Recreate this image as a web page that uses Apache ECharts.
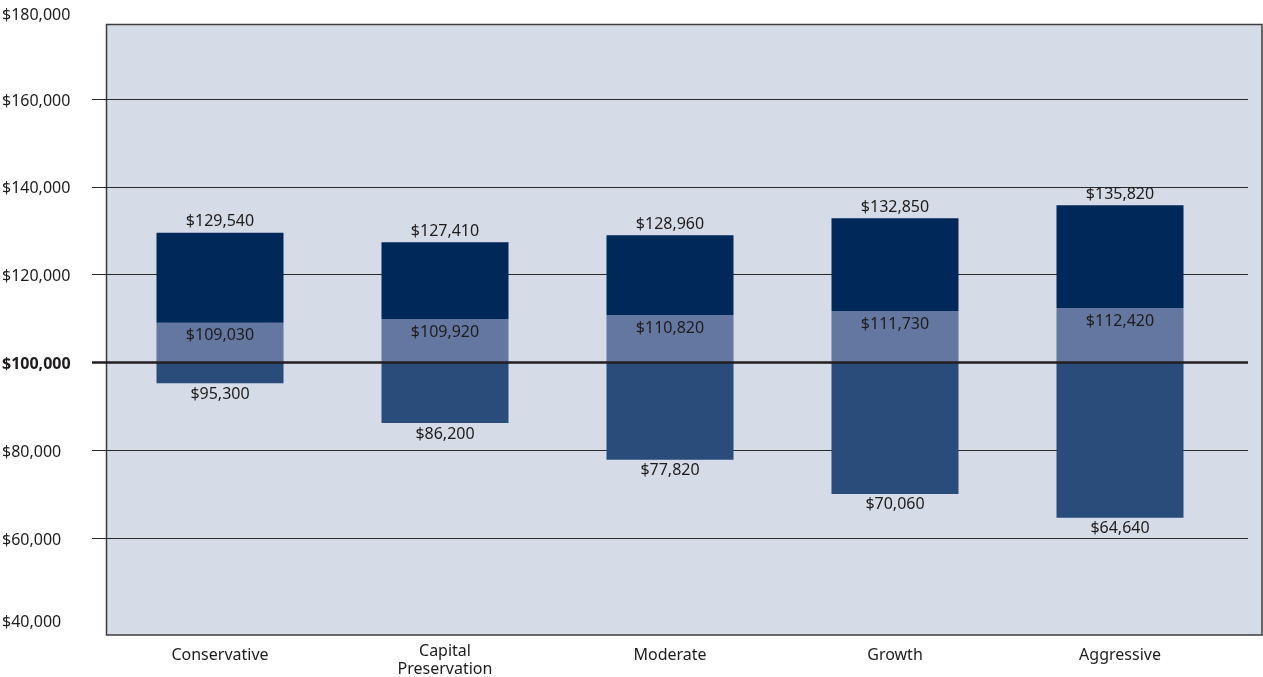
<!DOCTYPE html>
<html>
<head>
<meta charset="utf-8">
<script src="https://cdn.jsdelivr.net/npm/echarts@6/dist/echarts.min.js"></script>
<style>
html,body{margin:0;padding:0;background:#fff;}
#chart{width:1263px;height:677px;}
</style>
</head>
<body>
<div id="chart"></div>
<script>
// ---- data ----
var categories = ['Conservative', 'Capital\nPreservation', 'Moderate', 'Growth', 'Aggressive'];
var highValues = [129540, 127410, 128960, 132850, 135820];
var midValues  = [109030, 109920, 110820, 111730, 112420];
var lowValues  = [95300, 86200, 77820, 70060, 64640];
var baseline = 100000;
var yMin = 40000, yMax = 180000, yStep = 20000;

// ---- helpers ----
function money(v) {
  return '$' + String(Math.round(v)).replace(/\B(?=(\d{3})+(?!\d))/g, ',');
}
var FONT = '"Noto Sans", "DejaVu Sans", sans-serif';
var TXT = '#1e1b1c';

var baseData  = lowValues.map(function (v) { return v; });
var lowerData = lowValues.map(function (v) { return baseline - v; });
var lightData = midValues.map(function (v) { return v - baseline; });
var navyData  = highValues.map(function (v, i) { return v - midValues[i]; });

var chart = echarts.init(document.getElementById('chart'));
var option = {
  animation: false,
  backgroundColor: '#ffffff',
  grid: [
    // 0: data grid (category bands)
    { left: 107.5, right: 30.5, top: 11.3, bottom: 51.1, containLabel: false, outerBoundsMode: 'none' },
    // 1: gridlines grid (extends slightly beyond the box)
    { left: 92, right: 15, top: 11.3, bottom: 51.1, containLabel: false, outerBoundsMode: 'none' },
    // 2: framed plot box
    { left: 106.5, right: 1, top: 24.5, bottom: 42, show: true, outerBoundsMode: 'none',
      backgroundColor: '#d5dbe7', borderColor: '#3c3c3c', borderWidth: 1.5, containLabel: false }
  ],
  xAxis: [
    { type: 'category', gridIndex: 0, data: categories,
      axisLine: { show: false }, axisTick: { show: false }, splitLine: { show: false },
      axisLabel: {
        margin: 16, color: TXT, fontFamily: FONT, fontSize: 16, lineHeight: 18.5,
        verticalAlign: 'top', interval: 0,
        formatter: function (v) { return v.indexOf('\n') >= 0 ? v : '{s|' + v + '}'; },
        rich: { s: { fontFamily: FONT, fontSize: 16, color: TXT, padding: [8, 0, 0, 0] } }
      } },
    { type: 'value', gridIndex: 1, min: 0, max: 1, show: false },
    { type: 'value', gridIndex: 2, min: 0, max: 1, show: false }
  ],
  yAxis: [
    { type: 'value', gridIndex: 0, min: yMin, max: yMax, interval: yStep,
      axisLine: { show: false }, axisTick: { show: false }, splitLine: { show: false },
      axisLabel: {
        align: 'left', margin: 105.5, color: TXT, fontFamily: FONT, fontSize: 16,
        formatter: function (v) {
          if (v === baseline) return '{b|' + money(v) + '}';
          if (v === yMax) return '{t|' + money(v) + '}';
          if (v === yMin) return '{m|' + money(v) + '}';
          return '{n|' + money(v) + '}';
        },
        rich: {
          n: { fontFamily: FONT, fontSize: 16, color: TXT, padding: [4, 0, 0, 0] },
          b: { fontFamily: FONT, fontSize: 16, fontWeight: 'bold', color: TXT, padding: [4, 0, 0, 0] },
          t: { fontFamily: FONT, fontSize: 16, color: TXT, padding: [8, 0, 0, 0] },
          m: { fontFamily: FONT, fontSize: 16, color: TXT, padding: [0, 0, 6, 0] }
        }
      } },
    { type: 'value', gridIndex: 1, min: yMin, max: yMax, interval: yStep,
      axisLine: { show: false }, axisTick: { show: false }, axisLabel: { show: false },
      splitLine: { show: true, lineStyle: { width: 1.2,
        color: ['transparent', '#2a2a2a', '#2a2a2a', 'transparent', '#2a2a2a', '#2a2a2a', '#2a2a2a', 'transparent'] } } },
    { type: 'value', gridIndex: 2, min: 0, max: 1, show: false }
  ],
  series: [
    { name: 'base', type: 'bar', xAxisIndex: 0, yAxisIndex: 0, stack: 'r', barWidth: 127,
      data: baseData, itemStyle: { color: 'transparent' }, silent: true },
    { name: 'lower', type: 'bar', xAxisIndex: 0, yAxisIndex: 0, stack: 'r', barWidth: 127,
      data: lowerData, itemStyle: { color: '#294c7b' },
      label: { show: true, position: 'bottom', distance: 3, color: TXT, fontFamily: FONT, fontSize: 16,
        formatter: function (p) { return money(lowValues[p.dataIndex]); } } },
    { name: 'light', type: 'bar', xAxisIndex: 0, yAxisIndex: 0, stack: 'r', barWidth: 127,
      data: lightData, itemStyle: { color: '#6477a0' },
      label: { show: true, position: 'insideTop', distance: 5, color: TXT, fontFamily: FONT, fontSize: 16,
        formatter: function (p) { return money(midValues[p.dataIndex]); } } },
    { name: 'navy', type: 'bar', xAxisIndex: 0, yAxisIndex: 0, stack: 'r', barWidth: 127,
      data: navyData, itemStyle: { color: '#002858' },
      label: { show: true, position: 'top', distance: 3, color: TXT, fontFamily: FONT, fontSize: 16,
        formatter: function (p) { return money(highValues[p.dataIndex]); } } },
    { name: 'baseline', type: 'line', xAxisIndex: 1, yAxisIndex: 1, data: [], z: 10, silent: true,
      markLine: { silent: true, symbol: 'none', animation: false, label: { show: false },
        lineStyle: { color: '#231f20', width: 2.6, type: 'solid' },
        data: [{ yAxis: baseline }] } }
  ]
};
chart.setOption(option);
</script>
</body>
</html>
